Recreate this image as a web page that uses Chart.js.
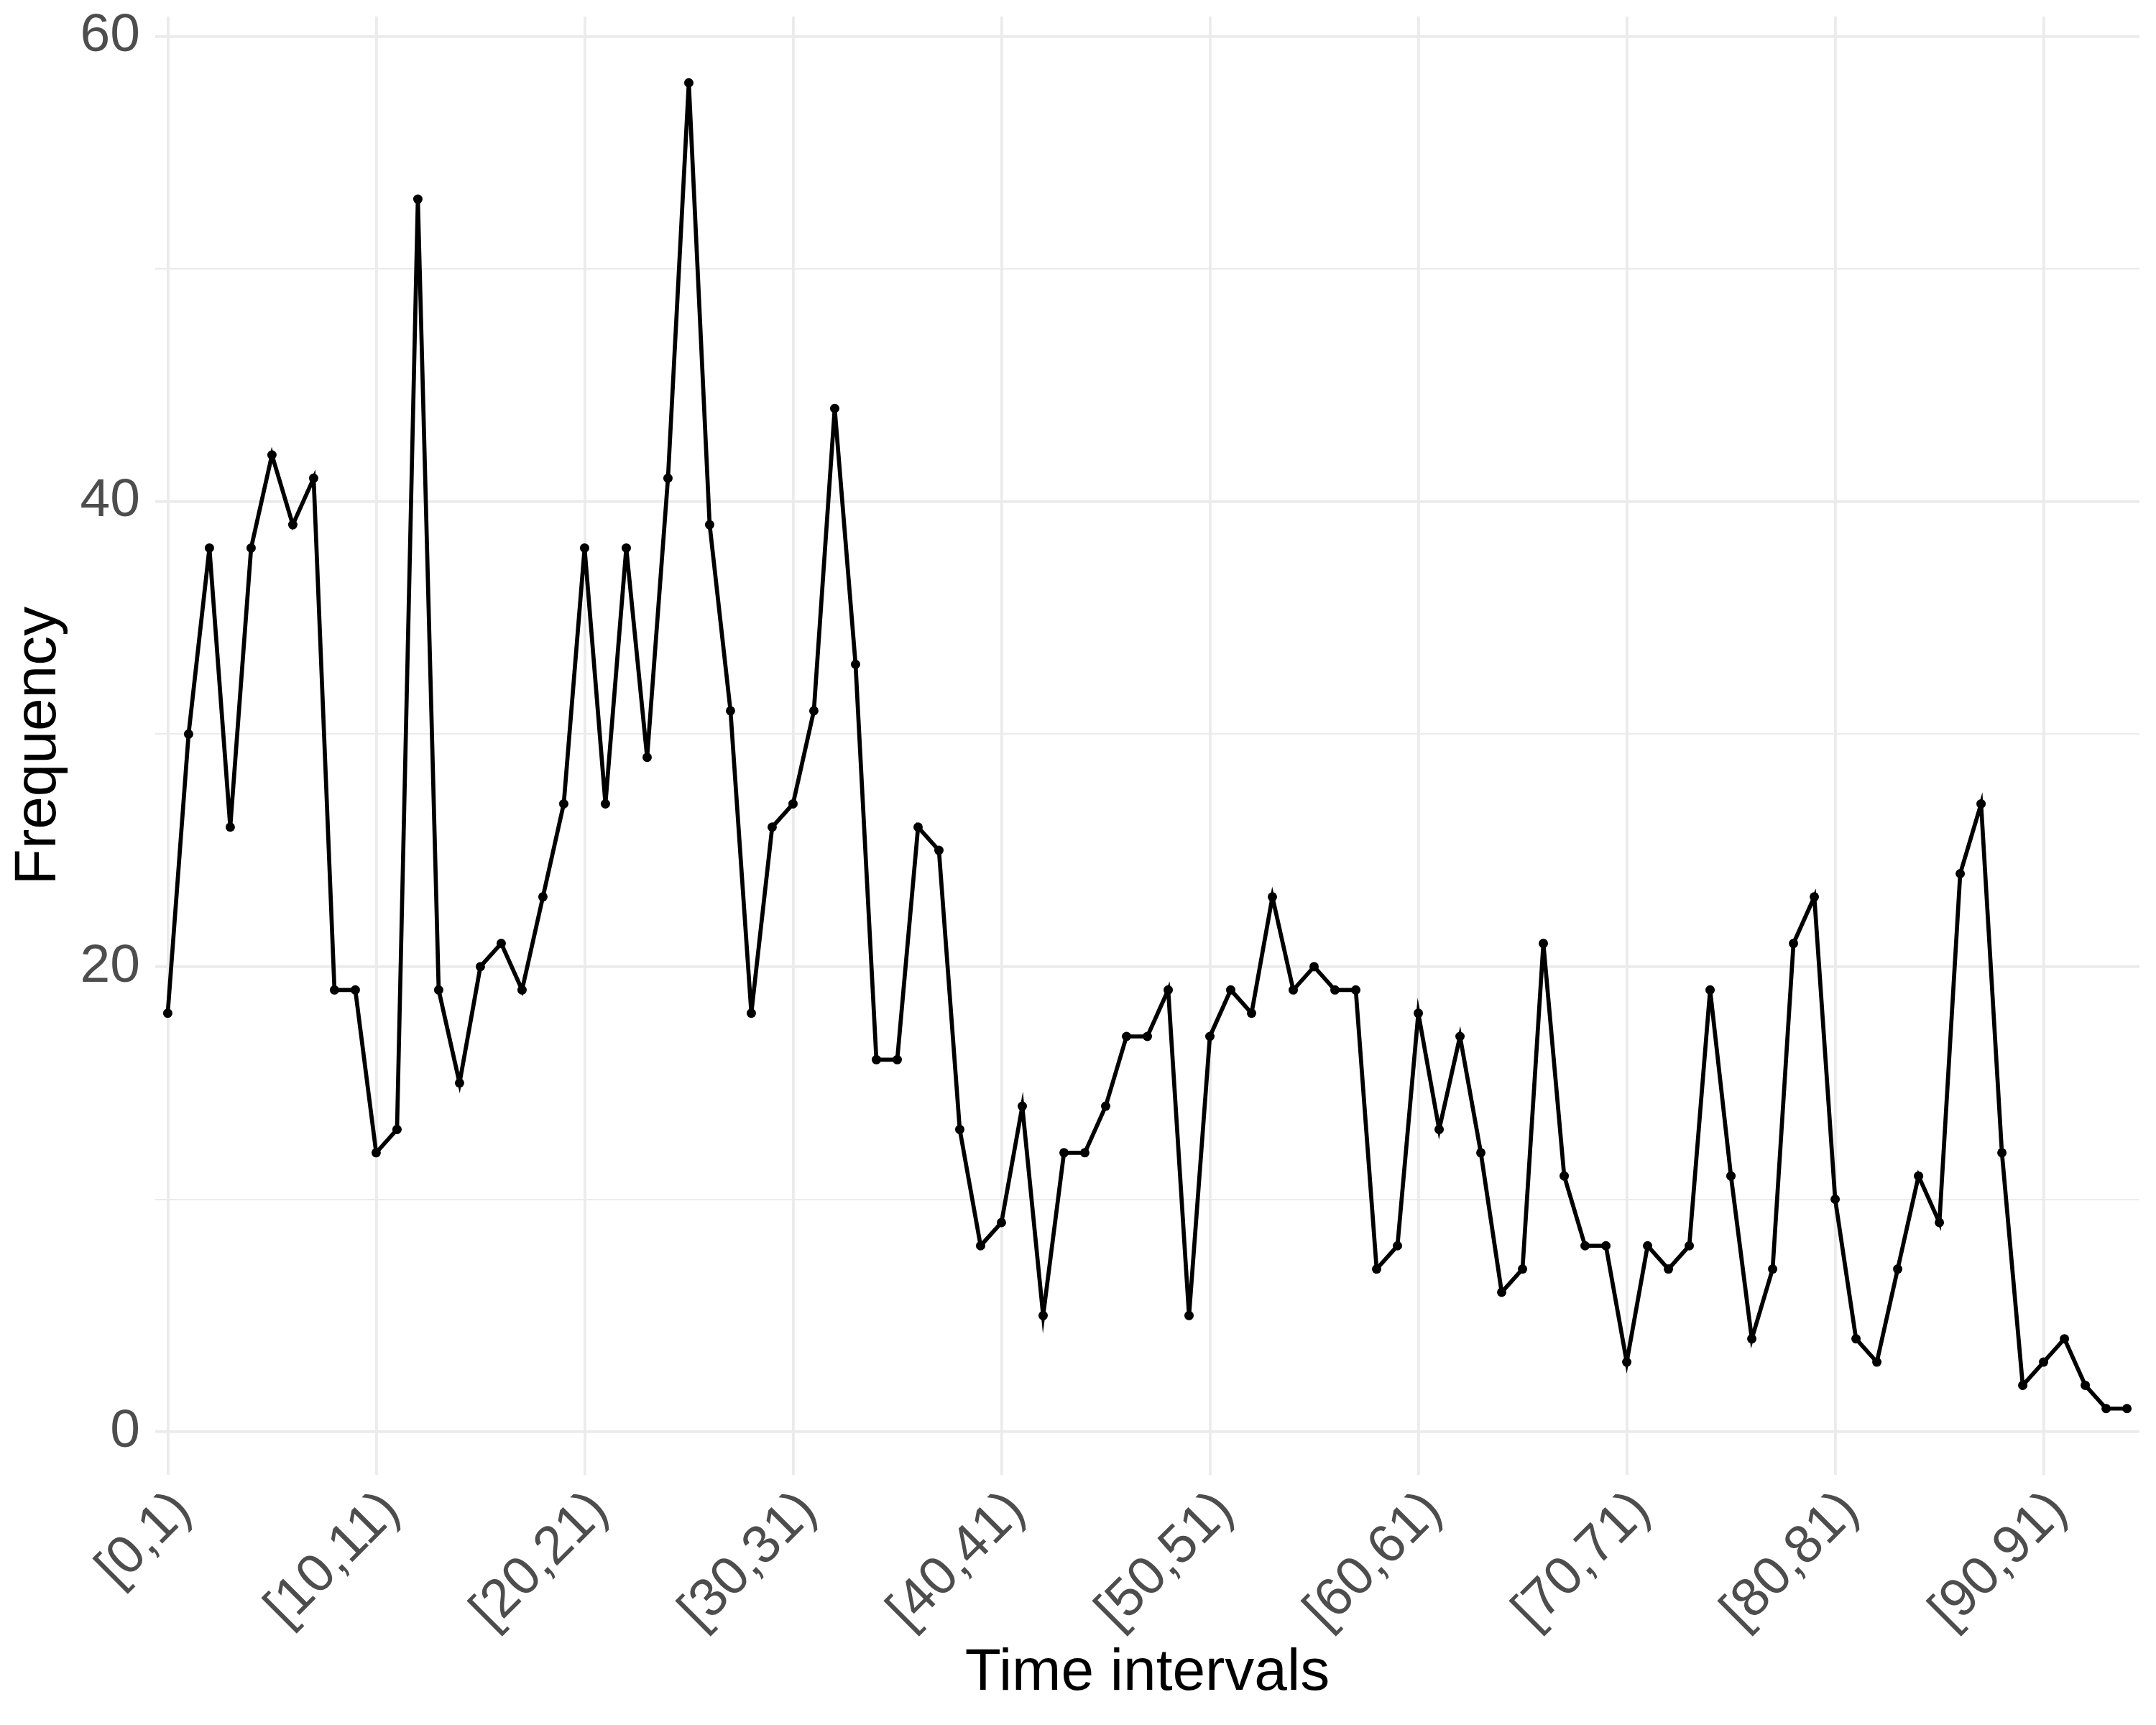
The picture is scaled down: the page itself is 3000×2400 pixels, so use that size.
<!DOCTYPE html>
<html>
<head>
<meta charset="utf-8">
<script src="https://cdn.jsdelivr.net/npm/chart.js@4.4.0/dist/chart.umd.min.js"></script>
<style>
  html, body { margin: 0; padding: 0; background: #fff; }
  #wrap { width: 3000px; height: 2400px; }
</style>
</head>
<body>
<div id="wrap"><canvas id="freqChart" width="3000" height="2400"></canvas></div>
<script>
// time interval categories, one per point
var intervals = [
  '[0,1)', '[1,2)', '[2,3)', '[3,4)', '[4,5)', '[5,6)', '[6,7)', '[7,8)', '[8,9)', '[9,10)',
  '[10,11)', '[11,12)', '[12,13)', '[13,14)', '[14,15)', '[15,16)', '[16,17)', '[17,18)', '[18,19)', '[19,20)',
  '[20,21)', '[21,22)', '[22,23)', '[23,24)', '[24,25)', '[25,26)', '[26,27)', '[27,28)', '[28,29)', '[29,30)',
  '[30,31)', '[31,32)', '[32,33)', '[33,34)', '[34,35)', '[35,36)', '[36,37)', '[37,38)', '[38,39)', '[39,40)',
  '[40,41)', '[41,42)', '[42,43)', '[43,44)', '[44,45)', '[45,46)', '[46,47)', '[47,48)', '[48,49)', '[49,50)',
  '[50,51)', '[51,52)', '[52,53)', '[53,54)', '[54,55)', '[55,56)', '[56,57)', '[57,58)', '[58,59)', '[59,60)',
  '[60,61)', '[61,62)', '[62,63)', '[63,64)', '[64,65)', '[65,66)', '[66,67)', '[67,68)', '[68,69)', '[69,70)',
  '[70,71)', '[71,72)', '[72,73)', '[73,74)', '[74,75)', '[75,76)', '[76,77)', '[77,78)', '[78,79)', '[79,80)',
  '[80,81)', '[81,82)', '[82,83)', '[83,84)', '[84,85)', '[85,86)', '[86,87)', '[87,88)', '[88,89)', '[89,90)',
  '[90,91)', '[91,92)', '[92,93)', '[93,94)', '[94,95)'
];

var frequency = [
  18, 30, 38, 26, 38, 42, 39, 41, 19, 19,
  12, 13, 53, 19, 15, 20, 21, 19, 23, 27,
  38, 27, 38, 29, 41, 58, 39, 31, 18, 26,
  27, 31, 44, 33, 16, 16, 26, 25, 13, 8,
  9, 14, 5, 12, 12, 14, 17, 17, 19, 5,
  17, 19, 18, 23, 19, 20, 19, 19, 7, 8,
  18, 13, 17, 12, 6, 7, 21, 11, 8, 8,
  3, 8, 7, 8, 19, 11, 4, 7, 21, 23,
  10, 4, 3, 7, 11, 9, 24, 27, 12, 2,
  3, 4, 2, 1, 1
];

// labelled positions on each axis
var xTickIdx = [0, 10, 20, 30, 40, 50, 60, 70, 80, 90];
var yTicks = [0, 10, 20, 30, 40, 50, 60];
var yLabelled = [0, 20, 40, 60];

var gridCol = '#EBEBEB';
var fam = 'Liberation Sans, Arial, sans-serif';

var points = frequency.map(function(v, i) { return { x: i, y: v }; });

var ctx = document.getElementById('freqChart').getContext('2d');

var myChart = new Chart(ctx, {
    type: 'line',
    data: {
        datasets: [{
            data: points,
            borderColor: '#000',
            backgroundColor: '#000',
            borderWidth: 5.7,
            pointRadius: 6.5,
            pointBorderWidth: 0,
            pointBackgroundColor: '#000',
            tension: 0,
            clip: false
        }]
    },
    options: {
        responsive: false,
        animation: false,
        devicePixelRatio: 1,
        layout: { padding: { left: 0, right: 23, top: 23, bottom: 0 } },
        plugins: {
            legend: { display: false },
            tooltip: { enabled: false }
        },
        scales: {
            x: {
                type: 'linear',
                min: -0.6,
                max: 94.6,
                afterBuildTicks: function(scale) {
                    scale.ticks = xTickIdx.map(function(v) { return { value: v }; });
                },
                afterFit: function(scale) {
                    scale.height = 348;
                    scale.paddingLeft = 0;
                    scale.paddingRight = 0;
                },
                border: { display: false },
                grid: {
                    color: gridCol,
                    lineWidth: 3.8,
                    drawTicks: false
                },
                ticks: {
                    autoSkip: false,
                    maxRotation: 45,
                    minRotation: 45,
                    padding: 6,
                    labelOffset: 21,
                    color: '#4D4D4D',
                    font: { family: fam, size: 75 },
                    callback: function(value) {
                        return intervals[value];
                    }
                },
                title: {
                    display: true,
                    text: 'Time intervals',
                    color: '#000',
                    font: { family: fam, size: 82 },
                    padding: { top: 0, bottom: 22 }
                }
            },
            y: {
                min: -1.85,
                max: 60.85,
                afterBuildTicks: function(scale) {
                    scale.ticks = yTicks.map(function(v) { return { value: v }; });
                },
                afterFit: function(scale) {
                    scale.width = 216;
                    scale.paddingTop = 0;
                    scale.paddingBottom = 0;
                },
                border: { display: false },
                grid: {
                    color: gridCol,
                    lineWidth: function(c) {
                        return yLabelled.indexOf(c.tick.value) >= 0 ? 3.8 : 1.9;
                    },
                    drawTicks: false
                },
                ticks: {
                    padding: 21,
                    color: '#4D4D4D',
                    font: { family: fam, size: 75 },
                    callback: function(value) {
                        return yLabelled.indexOf(value) >= 0 ? String(value) : '';
                    }
                },
                title: {
                    display: true,
                    text: 'Frequency',
                    color: '#000',
                    font: { family: fam, size: 82 },
                    padding: { top: 5, bottom: 0 }
                }
            }
        }
    }
});
</script>
</body>
</html>
